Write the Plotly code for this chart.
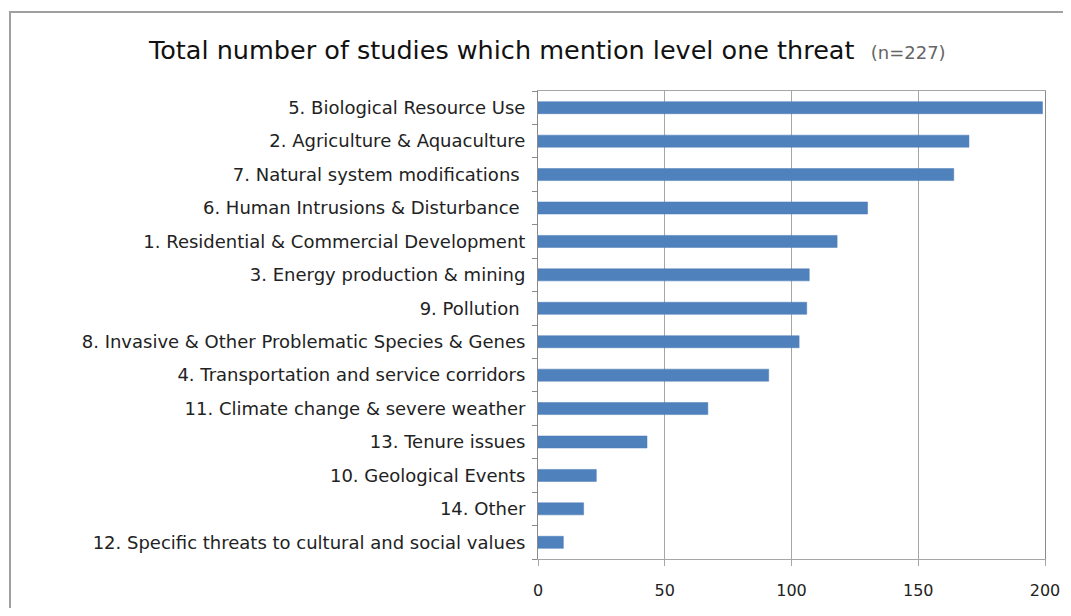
import plotly.graph_objects as go

categories = [
    "5. Biological Resource Use",
    "2. Agriculture & Aquaculture",
    "7. Natural system modifications ",
    "6. Human Intrusions & Disturbance ",
    "1. Residential & Commercial Development",
    "3. Energy production & mining",
    "9. Pollution ",
    "8. Invasive & Other Problematic Species & Genes",
    "4. Transportation and service corridors",
    "11. Climate change & severe weather",
    "13. Tenure issues",
    "10. Geological Events",
    "14. Other",
    "12. Specific threats to cultural and social values",
]
values = [199, 170, 164, 130, 118, 107, 106, 103, 91, 67, 43, 23, 18, 10]
x_ticks = [0, 50, 100, 150, 200]

OFF = 8  # page body margin
W, H = 1071 - 2 * OFF, 616 - 2 * OFF
L, R, T, B = 538 - OFF, 1045 - OFF, 91 - OFF, 559 - OFF
pw, ph = R - L, B - T

def px_x(p):
    return (p - OFF - L) / pw

def px_y(p):
    return (B - (p - OFF)) / ph

FONT = "DejaVu Sans, Verdana, sans-serif"

fig = go.Figure(go.Bar(
    x=values,
    y=categories,
    orientation="h",
    marker=dict(color="#4F81BD", line=dict(color="#4A7AB5", width=0.5)),
    width=0.36,
))

fig.update_layout(
    width=W, height=H,
    autosize=False,
    margin=dict(l=L, r=W - R, t=T, b=H - B, autoexpand=False),
    paper_bgcolor="white",
    plot_bgcolor="white",
    showlegend=False,
    font=dict(family=FONT, size=15, color="#222"),
    xaxis=dict(
        range=[0, 200],
        tickvals=x_ticks,
        ticktext=[str(v) for v in x_ticks],
        showgrid=True, gridcolor="#a6a6a6", gridwidth=1,
        showline=True, linecolor="#a6a6a6", linewidth=1, mirror=True,
        ticks="outside", ticklen=6, tickcolor="#a6a6a6",
        ticklabelstandoff=11,
        zeroline=False,
        automargin=False,
        fixedrange=True,
        tickfont=dict(family=FONT, size=16, color="#222"),
    ),
    yaxis=dict(
        categoryorder="array",
        categoryarray=categories[::-1],
        showline=True, linecolor="#8a8a8a", linewidth=1, mirror=True,
        ticks="outside", ticklen=5, tickcolor="#8a8a8a",
        tickson="boundaries",
        ticklabelstandoff=8,
        showgrid=False,
        automargin=False,
        tickfont=dict(family=FONT, size=18, color="#222"),
    ),
)

fig.add_annotation(
    x=px_x(547), y=px_y(50), xref="paper", yref="paper",
    text="Total number of studies which mention level one threat  <span style='font-size:18px;color:#666'>(n=227)</span>",
    showarrow=False, xanchor="center", yanchor="middle",
    font=dict(family=FONT, size=25.5, color="#111"),
)

# outer chart frame
fig.add_shape(
    type="rect", xref="paper", yref="paper",
    x0=px_x(10), x1=px_x(1090), y0=px_y(640), y1=px_y(12),
    line=dict(color="#a0a0a0", width=2), fillcolor="rgba(0,0,0,0)",
    layer="below",
)

fig.write_html("out.html")
